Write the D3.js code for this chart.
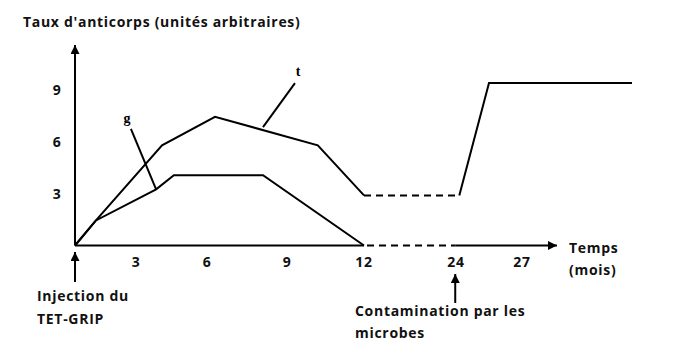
<!DOCTYPE html>
<html><head><meta charset="utf-8">
<script src="https://cdn.jsdelivr.net/npm/d3@7"></script>
<style>body{margin:0;background:#fff}svg{display:block}</style>
</head><body>
<script>
// Data (months, antibody units)
const curveT = [[0,0],[1.03,1.45],[4.1,5.8],[6.3,7.45],[10.2,5.8],[12,2.9]];
const curveTDashed = [[12,2.9],[24.15,2.9]];
const curveTRise = [[24.15,2.9],[25.5,9.4],[32,9.4]];
const curveG = [[0,0],[1.03,1.45],[3.85,3.25],[4.6,4.07],[8.1,4.07],[12,0]];
const xTicks = [3,6,9,12,24,27];
const yTicks = [3,6,9];
const pointerG = [[2.75,6.75],[3.85,3.25]];
const pointerT = [[9.31,9.4],[8.1,6.85]];

const W=674,H=358;
const svg=d3.select("body").append("svg").attr("width",W).attr("height",H);
const x=d3.scaleLinear().domain([0,3,6,9,12,24,27,33]).range([75,136,207,287,364,456,522,654]);
const y=d3.scaleLinear().domain([0,9]).range([245.5,90]);
const line=d3.line().x(d=>x(d[0])).y(d=>y(d[1]));
const F="'Open Sans', sans-serif";

const defs=svg.append("defs");
defs.append("marker").attr("id","ah").attr("viewBox","0 0 10 10").attr("refX",10).attr("refY",5)
 .attr("markerWidth",9).attr("markerHeight",9).attr("markerUnits","userSpaceOnUse").attr("orient","auto")
 .append("path").attr("d","M0,0L10,5L0,10Z").attr("fill","#000");

const g=svg.append("g").attr("fill","none").attr("stroke","#000").attr("stroke-width",2);
// axes
g.append("line").attr("x1",x(0)).attr("x2",x(0)).attr("y1",y(0)).attr("y2",45).attr("marker-end","url(#ah)");
g.append("line").attr("x1",x(0)).attr("x2",x(12)).attr("y1",y(0)).attr("y2",y(0));
g.append("line").attr("x1",x(12)+3).attr("x2",x(23.9)).attr("y1",y(0)).attr("y2",y(0)).attr("stroke-dasharray","7,5");
g.append("line").attr("x1",x(23.9)).attr("x2",557).attr("y1",y(0)).attr("y2",y(0)).attr("marker-end","url(#ah)");
// curves
g.append("path").attr("d",line(curveT)).attr("stroke-linejoin","miter");
g.append("path").attr("d",line(curveTDashed)).attr("stroke-dasharray","7,5");
g.append("path").attr("d",line(curveTRise));
g.append("path").attr("d",line(curveG));
g.append("path").attr("d",line(pointerG));
g.append("path").attr("d",line(pointerT));
// event arrows
g.append("line").attr("x1",x(0)).attr("x2",x(0)).attr("y1",282).attr("y2",252).attr("marker-end","url(#ah)");
g.append("line").attr("x1",x(23.9)).attr("x2",x(23.9)).attr("y1",303).attr("y2",274).attr("marker-end","url(#ah)");

const t=svg.append("g").attr("font-family",F).attr("font-weight","bold").attr("font-size",14).attr("letter-spacing",0.7).attr("fill","#111");
t.selectAll(".xt").data(xTicks).join("text").attr("x",d=>x(d)).attr("y",267).attr("text-anchor","middle").text(d=>d);
t.selectAll(".yt").data(yTicks).join("text").attr("x",57).attr("y",d=>y(d)+5).attr("text-anchor","middle").text(d=>d);
t.append("text").attr("x",23).attr("y",27).text("Taux d'anticorps (unités arbitraires)");
t.append("text").attr("x",37).attr("y",301).text("Injection du");
t.append("text").attr("x",37).attr("y",324).text("TET-GRIP");
t.append("text").attr("x",355).attr("y",316).text("Contamination par les");
t.append("text").attr("x",355).attr("y",338).text("microbes");
t.append("text").attr("x",569).attr("y",253).text("Temps");
t.append("text").attr("x",569).attr("y",275).text("(mois)");
svg.append("text").attr("x",127).attr("y",123).attr("text-anchor","middle").attr("font-family","'Liberation Serif',serif").attr("font-weight","bold").attr("font-size",14).text("g");
svg.append("text").attr("x",298).attr("y",76).attr("text-anchor","middle").attr("font-family","'Liberation Serif',serif").attr("font-weight","bold").attr("font-size",14).text("t");
</script>
</body></html>
